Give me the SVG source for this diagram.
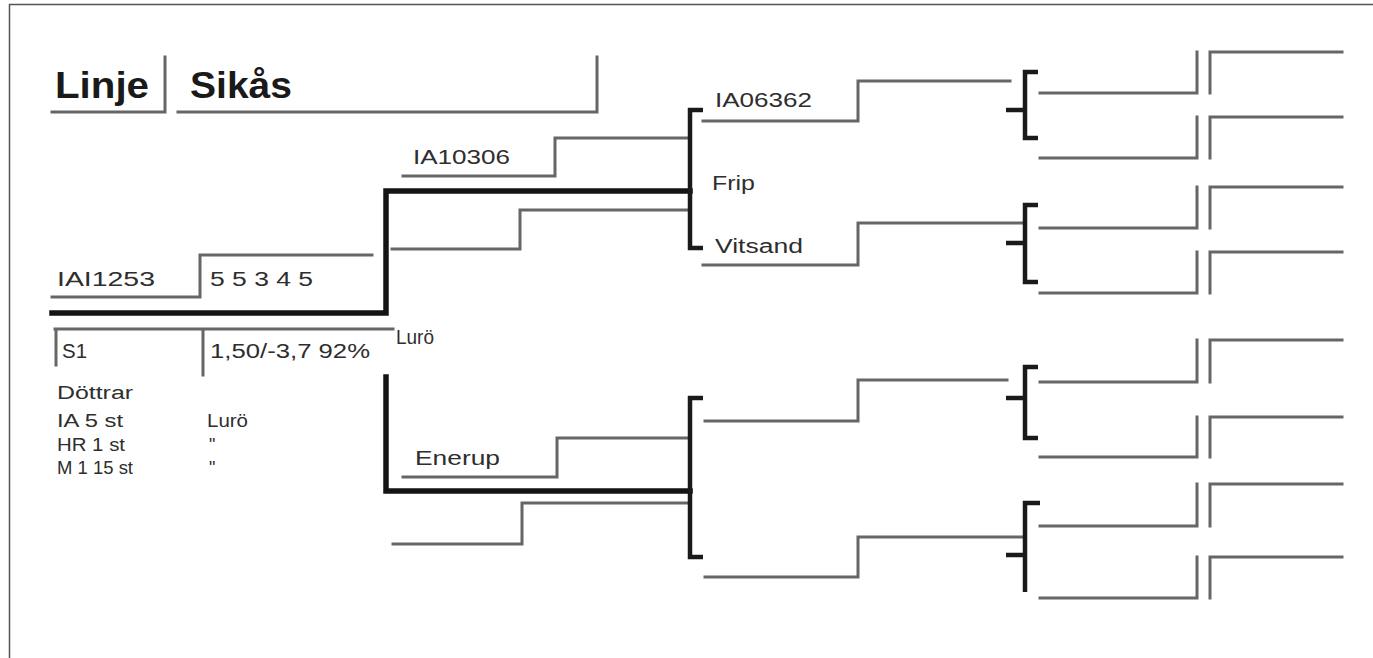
<svg xmlns="http://www.w3.org/2000/svg" width="1373" height="658" viewBox="0 0 1373 658">
<style>
.fr{fill:none;stroke:#555;stroke-width:1.5}
.g{fill:none;stroke:#666;stroke-width:3;stroke-linecap:square}
.k{fill:none;stroke:#141414;stroke-width:5.5;stroke-linecap:square}
.b{fill:none;stroke:#1a1a1a;stroke-width:4.5;stroke-linecap:butt}
.h{font-family:"Liberation Sans",Arial,sans-serif;font-weight:bold;font-size:36px;fill:#1a1a1a}
.t{font-family:"Liberation Sans",Arial,sans-serif;font-size:20px;fill:#2e2e2e}
.s{font-family:"Liberation Sans",Arial,sans-serif;font-size:18px;fill:#2e2e2e}
</style>
<rect width="1373" height="658" fill="#fff"/>
<path class="fr" d="M9.5,658 V4.5 H1373"/>

<g id="header">
<text class="h" x="55" y="98" textLength="94" lengthAdjust="spacingAndGlyphs">Linje</text>
<text class="h" x="190" y="98" textLength="102" lengthAdjust="spacingAndGlyphs">Sikås</text>
<path class="g" d="M52,112 H165 V57 M178,112 H597 V57"/>
</g>

<g id="connectors">
<path class="g" d="M52,297 H200 V255 H372"/>
<path class="g" d="M55,329 H393 M56,329 V365 M203,329 V375"/>
<path class="k" d="M52,313 H386 V191 H690"/>
<path class="k" d="M386,377 V491 H690"/>
<path class="g" d="M403,176 H555 V138 H687"/>
<path class="g" d="M392,249 H520 V210 H687"/>
<path class="g" d="M403,477 H557 V438 H687"/>
<path class="g" d="M393,544 H522 V503 H687"/>
<path class="b" d="M703,110 H690 V248 H703"/>
<path class="b" d="M703,398 H690 V557 H703"/>
<path class="g" d="M703,121 H858 V81 H1010"/>
<path class="g" d="M703,265 H858 V223 H1023"/>
<path class="g" d="M705,421 H858 V380 H1007"/>
<path class="g" d="M705,577 H858 V537 H1023"/>
<path class="b" d="M1038,72 H1025 V138 H1038 M1006,110 H1025"/>
<path class="b" d="M1038,205 H1025 V282 H1038 M1006,243 H1025"/>
<path class="b" d="M1038,367 H1025 V438 H1038 M1006,398 H1025"/>
<path class="b" d="M1040,503 H1025 V592 M1006,555 H1025"/>
<path class="g" d="M1040,93 H1197 V52 M1210,93 V52 H1342"/>
<path class="g" d="M1040,158 H1197 V117 M1210,158 V117 H1342"/>
<path class="g" d="M1040,228 H1197 V187 M1210,228 V187 H1342"/>
<path class="g" d="M1040,293 H1197 V252 M1210,293 V252 H1342"/>
<path class="g" d="M1040,382 H1197 V340 M1210,382 V340 H1342"/>
<path class="g" d="M1040,457 H1197 V417 M1210,457 V417 H1342"/>
<path class="g" d="M1040,526 H1197 V484 M1210,526 V484 H1342"/>
<path class="g" d="M1040,598 H1197 V557 M1210,598 V557 H1342"/>
</g>

<g id="node-IAI1253">
<text class="t" x="57" y="286" textLength="98" lengthAdjust="spacingAndGlyphs">IAI1253</text>
<text class="t" x="210" y="286" textLength="103" lengthAdjust="spacingAndGlyphs">5 5 3 4 5</text>
<text class="t" x="62" y="358" textLength="25" lengthAdjust="spacingAndGlyphs">S1</text>
<text class="t" x="210" y="358" textLength="160" lengthAdjust="spacingAndGlyphs">1,50/-3,7 92%</text>
</g>
<g id="node-info">
<text class="s" x="57" y="399" textLength="76" lengthAdjust="spacingAndGlyphs">Döttrar</text>
<text class="s" x="57" y="427" textLength="66" lengthAdjust="spacingAndGlyphs">IA 5 st</text>
<text class="s" x="207" y="427" textLength="41" lengthAdjust="spacingAndGlyphs">Lurö</text>
<text class="s" x="57" y="451" textLength="68" lengthAdjust="spacingAndGlyphs">HR 1 st</text>
<text class="s" x="209" y="451">"</text>
<text class="s" x="57" y="474" textLength="76" lengthAdjust="spacingAndGlyphs">M 1 15 st</text>
<text class="s" x="209" y="474">"</text>
</g>
<g id="node-Luro">
<text class="t" x="396" y="344" textLength="38" lengthAdjust="spacingAndGlyphs">Lurö</text>
</g>
<g id="node-IA10306">
<text class="t" x="413" y="164" textLength="97" lengthAdjust="spacingAndGlyphs">IA10306</text>
</g>
<g id="node-Enerup">
<text class="t" x="415" y="465" textLength="85" lengthAdjust="spacingAndGlyphs">Enerup</text>
</g>
<g id="node-Frip">
<text class="t" x="712" y="190" textLength="43" lengthAdjust="spacingAndGlyphs">Frip</text>
</g>
<g id="node-IA06362">
<text class="t" x="715" y="107" textLength="97" lengthAdjust="spacingAndGlyphs">IA06362</text>
</g>
<g id="node-Vitsand">
<text class="t" x="715" y="253" textLength="88" lengthAdjust="spacingAndGlyphs">Vitsand</text>
</g>
</svg>
